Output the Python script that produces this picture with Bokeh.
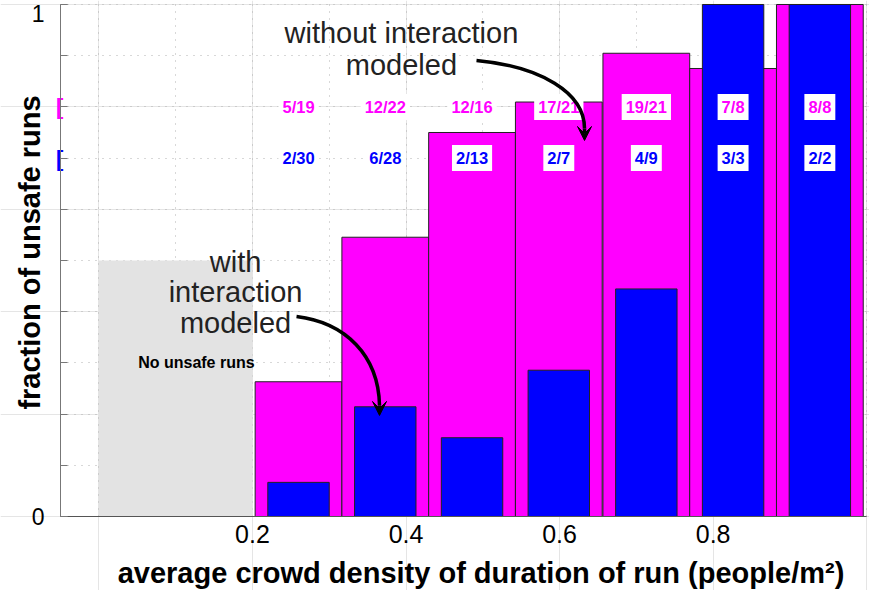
import math

from bokeh.core.properties import value
from bokeh.embed import file_html
from bokeh.models import (Arrow, ColumnDataSource, FixedTicker, Grid, LinearAxis,
                          Range1d, VeeHead)
from bokeh.plotting import figure
from bokeh.resources import INLINE

# --- data -------------------------------------------------------------------
# density bins (centre of each bin, people/m^2)
bin_centers = [0.260, 0.373, 0.486, 0.599, 0.713, 0.826, 0.939]
# runs without interaction modelled: unsafe runs / total runs per bin
unsafe_without = [5, 12, 12, 17, 19, 7, 8]
runs_without = [19, 22, 16, 21, 21, 8, 8]
# runs with interaction modelled
unsafe_with = [2, 6, 2, 2, 4, 3, 2]
runs_with = [30, 28, 13, 7, 9, 3, 2]
# density range in which no run was unsafe
no_unsafe_lo, no_unsafe_hi = 0.0, 0.2
no_unsafe_level = 0.5
x_ticks = [0.2, 0.4, 0.6, 0.8]
y_ticks = [0, 1]

MAGENTA = "#ff00ff"
BLUE = "#0000ff"
FONT = "Liberation Sans"

# plotted area spans x in [-0.05, 1] and y in [0, 1]; the canvas around it
# is part of the frame so that titles and markers can sit next to the axes
X_LO, X_HI = -0.05, 1.0
Y_LO, Y_HI = 0.0, 1.0

src = ColumnDataSource(dict(
    x=bin_centers,
    frac_without=[u / n for u, n in zip(unsafe_without, runs_without)],
    frac_with=[u / n for u, n in zip(unsafe_with, runs_with)],
    lab_without=[f"{u}/{n}" for u, n in zip(unsafe_without, runs_without)],
    lab_with=[f"{u}/{n}" for u, n in zip(unsafe_with, runs_with)],
))

p = figure(
    width=869, height=590,
    x_range=Range1d(-0.12815, 1.00366), y_range=Range1d(-0.14453, 1.00781),
    x_axis_location=None, y_axis_location=None,
    output_backend="svg", toolbar_location=None,
    min_border=0, min_border_left=0, min_border_right=0,
    min_border_top=0, min_border_bottom=0,
)
p.outline_line_color = None
p.background_fill_color = "white"

# dotted grid every 0.1, limited to the plotted area
tenths = [i / 10 for i in range(11)]
for dim in (0, 1):
    p.add_layout(Grid(dimension=dim, ticker=FixedTicker(ticks=tenths),
                      bounds=(0, 1), cross_bounds=(X_LO, X_HI) if dim == 1 else (Y_LO, Y_HI),
                      grid_line_color="#b0b0b0", grid_line_dash="1 6", grid_line_width=1))

# x axis
xaxis = LinearAxis(fixed_location=Y_LO, bounds=(X_LO, X_HI),
                   ticker=FixedTicker(ticks=x_ticks, minor_ticks=[]))
xaxis.axis_line_color = "#555555"
xaxis.major_tick_in = 0
xaxis.major_tick_out = 0
xaxis.minor_tick_line_color = None
xaxis.major_label_standoff = 8
xaxis.major_label_text_font = FONT
xaxis.major_label_text_font_size = "25px"
xaxis.major_label_text_color = "black"
p.add_layout(xaxis, "below")

# y axis: inward ticks every 0.1, label "0" centred on its tick
yaxis = LinearAxis(fixed_location=X_LO, bounds=(Y_LO, Y_HI),
                   ticker=FixedTicker(ticks=y_ticks[:1], minor_ticks=tenths))
yaxis.axis_line_color = "#777777"
yaxis.major_tick_in = 7
yaxis.major_tick_out = 0
yaxis.minor_tick_in = 7
yaxis.minor_tick_out = 0
yaxis.major_tick_line_color = "#777777"
yaxis.minor_tick_line_color = "#777777"
yaxis.major_label_standoff = 16
yaxis.major_label_text_font = FONT
yaxis.major_label_text_font_size = "23px"
yaxis.major_label_text_color = "black"
p.add_layout(yaxis, "left")

# label "1" hangs below its tick so it stays on the canvas
yaxis_top = LinearAxis(fixed_location=X_LO, bounds=(Y_LO, Y_HI),
                       ticker=FixedTicker(ticks=y_ticks[1:], minor_ticks=[]))
yaxis_top.axis_line_color = None
yaxis_top.major_tick_in = 7
yaxis_top.major_tick_out = 0
yaxis_top.major_tick_line_color = "#777777"
yaxis_top.minor_tick_line_color = None
yaxis_top.major_label_standoff = 16
yaxis_top.major_label_text_font = FONT
yaxis_top.major_label_text_font_size = "23px"
yaxis_top.major_label_text_color = "black"
yaxis_top.major_label_text_baseline = "top"
p.add_layout(yaxis_top, "left")

# shaded region: no unsafe runs
p.quad(left=no_unsafe_lo, right=no_unsafe_hi, bottom=0, top=no_unsafe_level,
       fill_color="#e3e3e3", line_color=None)
p.text(x=(no_unsafe_lo + no_unsafe_hi) / 2 + 0.027, y=0.3, text=["No unsafe runs"],
       text_font=value(FONT), text_font_style="bold", text_font_size="16px",
       text_color="black", text_align="center", text_baseline="middle")

# bars: fraction of unsafe runs per density bin
p.vbar(x="x", top="frac_without", bottom=0, width=0.113, source=src,
       fill_color=MAGENTA, line_color="#222222", line_width=1)
p.vbar(x="x", top="frac_with", bottom=0, width=0.08, source=src,
       fill_color=BLUE, line_color="#222222", line_width=1)

# count labels (unsafe / total) in two rows
label_style = dict(text_font=value(FONT), text_font_style="bold", text_font_size="16.5px",
                   text_align="center", text_baseline="middle",
                   background_fill_color="white", padding=4)
p.text(x="x", y=0.8, text="lab_without", source=src, text_color=MAGENTA, **label_style)
p.text(x="x", y=0.7, text="lab_with", source=src, text_color=BLUE, **label_style)

# row markers on the y axis
for yrow, col in ((0.8, MAGENTA), (0.7, BLUE)):
    p.text(x=X_LO - 0.0059, y=yrow, text=["["], text_color=col, text_font=value(FONT),
           text_font_style="bold", text_font_size="22px",
           text_align="left", text_baseline="middle")

# callouts
callout = dict(text_font=value(FONT), text_font_size="29px", text_color="#222222",
               text_align="center", text_baseline="middle")
p.text(x=0.178, y=0.4375, text=["with\ninteraction\nmodeled"], text_line_height=0.95, **callout)
p.text(x=0.394, y=0.913, text=["without interaction\nmodeled"], text_line_height=1.0, **callout)

p.bezier(x0=0.2574, y0=0.3906, cx0=0.3212, cy0=0.3789, cx1=0.3642, cy1=0.3145,
         x1=0.3655, y1=0.2168, line_color="black", line_width=3.5)
p.add_layout(Arrow(end=VeeHead(size=14, fill_color="black", line_color="black"),
                   x_start=0.3655, y_start=0.2168, x_end=0.3655, y_end=0.1973,
                   line_color="black", line_width=3.5))
p.bezier(x0=0.4918, y0=0.8906, cx0=0.5752, cy0=0.8789, cx1=0.6325, cy1=0.8281,
         x1=0.6325, y1=0.7578, line_color="black", line_width=3.5)
p.add_layout(Arrow(end=VeeHead(size=14, fill_color="black", line_color="black"),
                   x_start=0.6325, y_start=0.7578, x_end=0.6325, y_end=0.7344,
                   line_color="black", line_width=3.5))

# axis titles
title_style = dict(text_font=value(FONT), text_font_style="bold", text_font_size="29px",
                   text_color="black", text_align="center", text_baseline="middle")
p.text(x=-0.0891, y=0.5156, angle=math.pi / 2, text=["fraction of unsafe runs"], **title_style)
p.text(x=0.4977, y=-0.1094, text=["average crowd density of duration of run (people/m²)"],
       **title_style)

open("out.html", "w").write(file_html(p, INLINE))
